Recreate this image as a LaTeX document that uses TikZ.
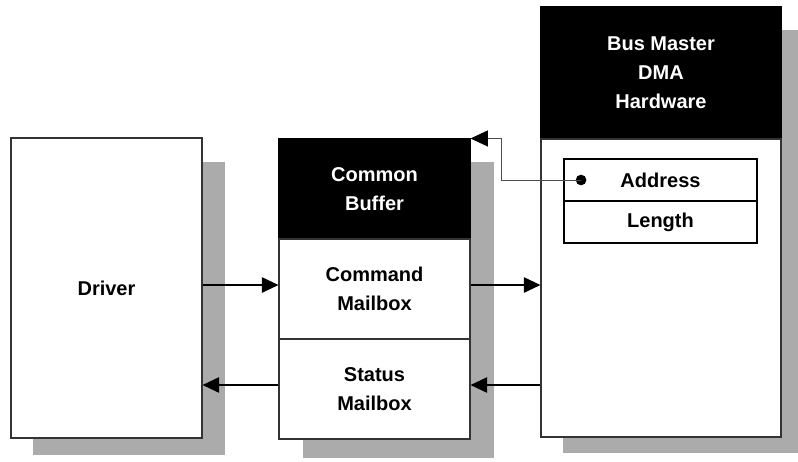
\documentclass[tikz,border=0pt]{standalone}
\usepackage{fontspec}
\setmainfont{Liberation Sans}
\usetikzlibrary{fit,arrows.meta,calc}
\begin{document}
\begin{tikzpicture}[x=0.75pt,y=-0.75pt,
  shadowbox/.style={fill=black!33, draw=none, inner sep=0pt},
  whitebox/.style={draw=black!80, line width=0.8pt, fill=white, inner sep=0pt},
  blackbox/.style={draw=black, line width=0.8pt, fill=black, inner sep=0pt},
  regbox/.style={draw=black, line width=1.4pt, fill=white, inner sep=0pt},
  lbl/.style={font=\fontsize{15}{21.75}\selectfont\bfseries, align=center, text=black, inner sep=0pt},
  wlbl/.style={lbl, text=white},
  flow/.style={line width=1.4pt, -{Triangle[length=12.5pt,width=11.5pt]}},
  ptr/.style={draw=black!70, line width=0.7pt, -{Triangle[length=13pt,width=12pt,color=black]}}
]
\useasboundingbox (0,0) rectangle (798,461);
% shadows
\node[shadowbox, fit={(33,162)(225,455)}] (drvsh) {};
\node[shadowbox, fit={(303,162)(494,458)}] (cbsh) {};
\node[shadowbox, fit={(563,30)(798,453)}] (bmsh) {};
% driver
\node[whitebox, fit={(11,138)(202,438)}] (driver) {};
\node[lbl] (drvl) at (driver.center) {Driver};
% common buffer
\node[blackbox, fit={(279,139)(470,239)}] (cbh) {};
\node[whitebox, fit={(279,239)(470,339)}] (cmd) {};
\node[whitebox, fit={(279,339)(470,439)}] (sts) {};
\node[wlbl] (cbhl) at (cbh.center) {Common\\Buffer};
\node[lbl] (cmdl) at (cmd.center) {Command\\Mailbox};
\node[lbl] (stsl) at (sts.center) {Status\\Mailbox};
% bus master
\node[blackbox, fit={(541,7)(781,139)}] (bmh) {};
\node[whitebox, fit={(541,139)(781,437)}] (bmb) {};
\node[wlbl] (bmhl) at (bmh.center) {Bus Master\\DMA\\Hardware};
\node[regbox, fit={(564,159)(757,201)}] (addr) {};
\node[regbox, fit={(564,201)(757,243)}] (len) {};
\node[lbl] (addrl) at (addr.center) {Address};
\node[lbl] (lenl) at (len.center) {Length};
% pointer
\node[circle, fill=black, inner sep=0pt, minimum size=8pt] (dot) at ([xshift=13.5pt]addr.west) {};
\draw[ptr] (dot.center) -- ++(-80,0) |- (cbh.north east);
% flows
\coordinate (c1) at ([yshift=3pt]cmd.west);
\coordinate (c2) at ([yshift=3pt]cmd.east);
\coordinate (c3) at ([yshift=3pt]sts.east);
\coordinate (c4) at ([yshift=3pt]sts.west);
\draw[flow] (driver.east |- c1) -- (c1);
\draw[flow] (c2) -- (bmb.west |- c2);
\draw[flow] (bmb.west |- c3) -- (c3);
\draw[flow] (c4) -- (driver.east |- c4);
\end{tikzpicture}
\end{document}
